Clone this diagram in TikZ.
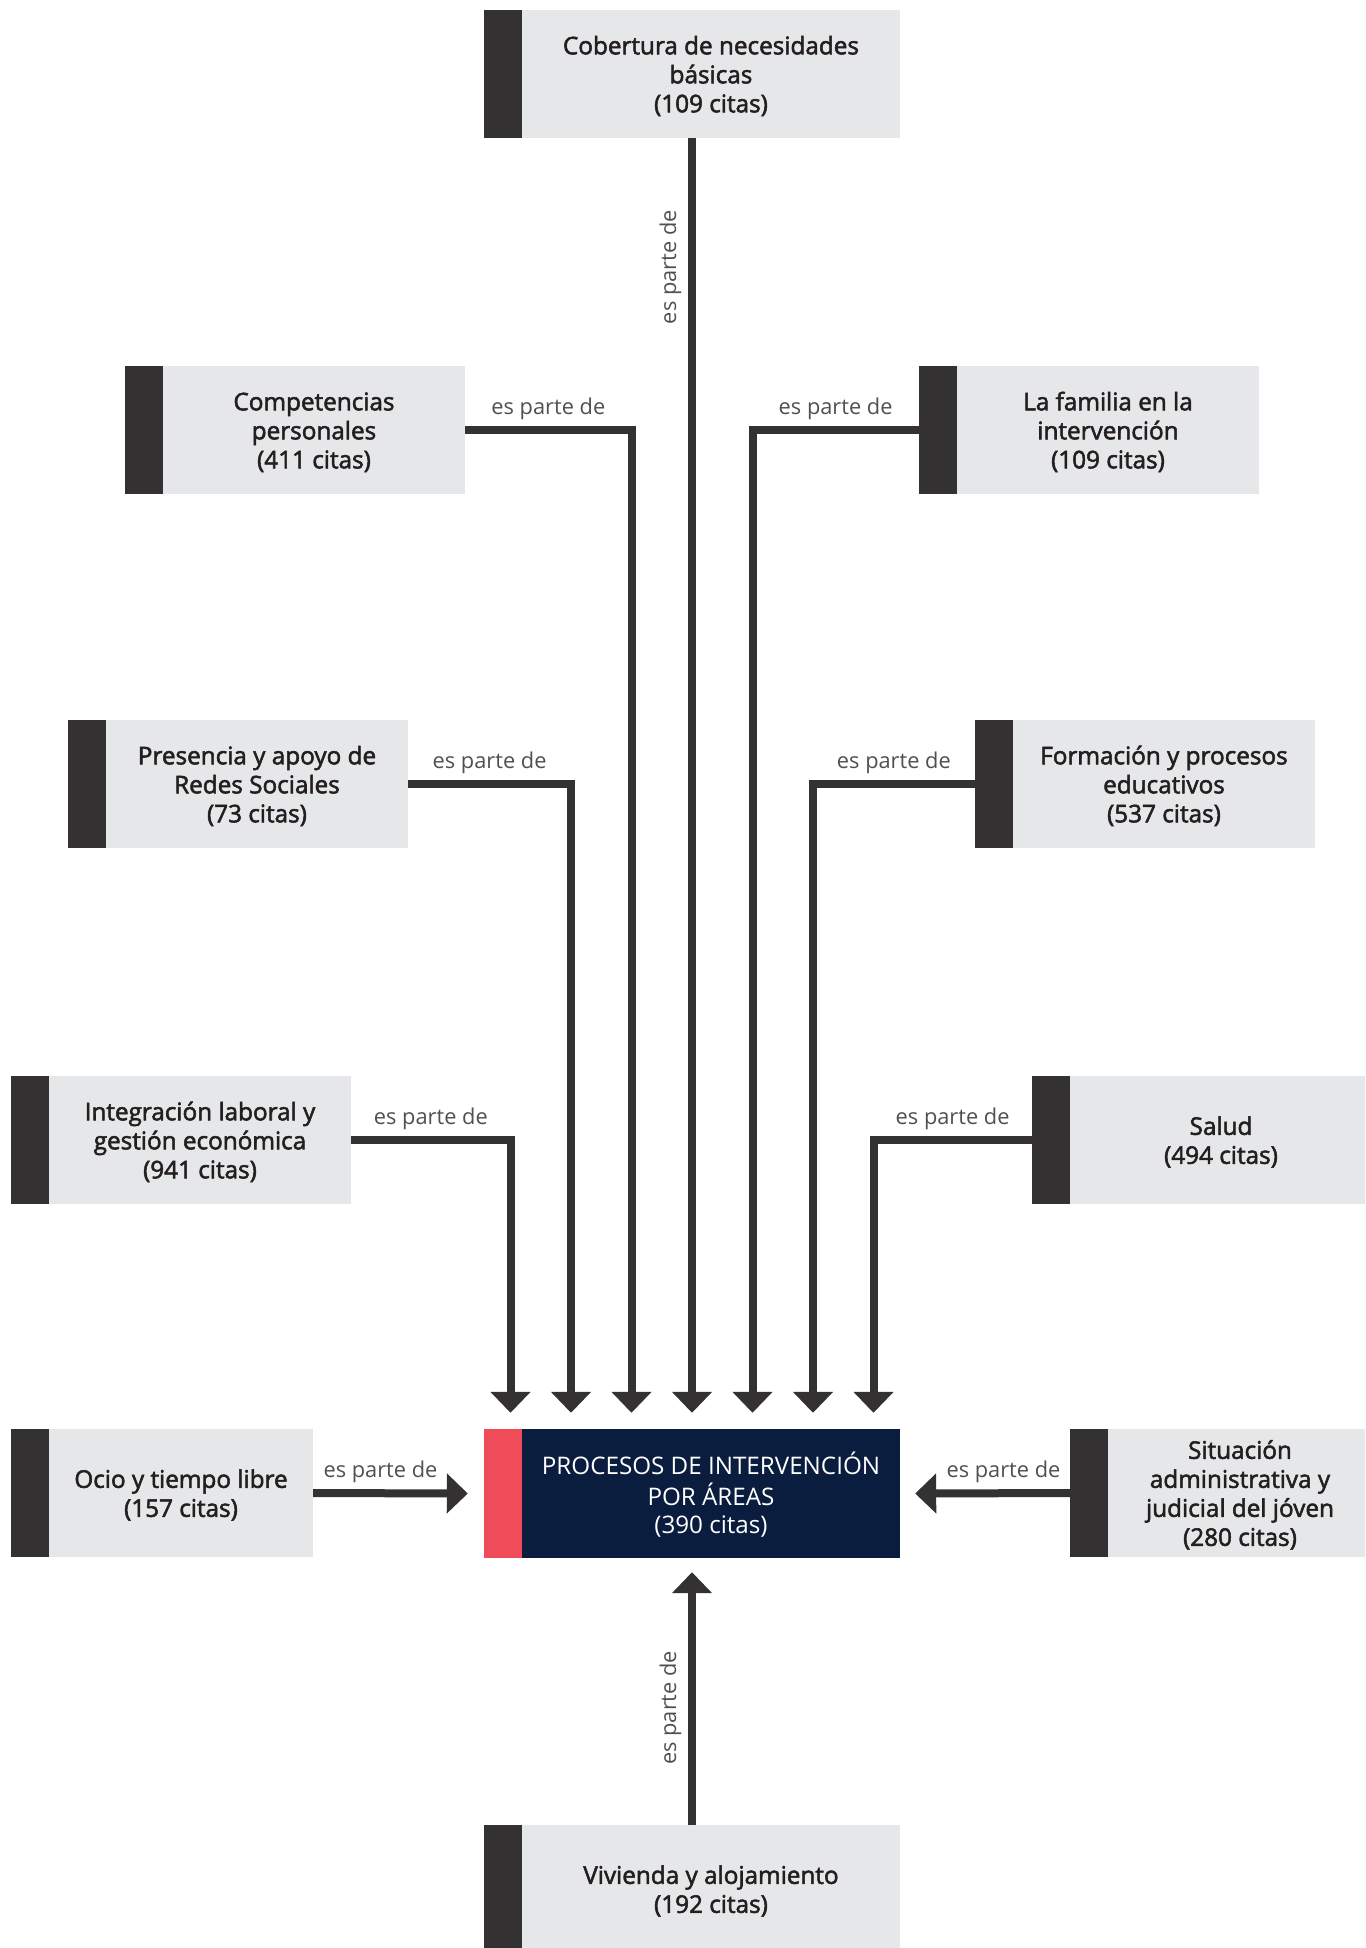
\documentclass[tikz,border=0pt]{standalone}
\usepackage{fontspec}
\setmainfont{Open Sans}
\newfontfamily\sbfont{Open Sans}[FakeBold=2.2]
\newfontfamily\ltfont{Open Sans}
\usetikzlibrary{arrows.meta,calc}
\definecolor{boxgray}{HTML}{E6E7E8}
\definecolor{barc}{HTML}{333132}
\definecolor{linec}{HTML}{333132}
\definecolor{txt}{HTML}{231F20}
\definecolor{lblc}{HTML}{505050}
\definecolor{navy}{HTML}{0B1D3E}
\definecolor{redbar}{HTML}{EF4B59}
\newcommand{\bt}[1]{\hspace*{38pt}\raisebox{-3.5pt}[\height][\depth]{\begin{tabular}{@{}c@{}}#1\end{tabular}}}
\tikzset{
  box/.style={rectangle, fill=boxgray, inner sep=0pt, minimum height=128pt,
    text=txt, font=\sbfont\fontsize{24.3}{29}\selectfont,
    path picture={\fill[barc] (path picture bounding box.north west) rectangle ([xshift=38pt]path picture bounding box.south west);}},
  mainbox/.style={rectangle, fill=navy, inner sep=0pt, minimum height=129pt,
    text=white, font=\fontsize{24.2}{28.5}\selectfont,
    path picture={\fill[redbar] (path picture bounding box.north west) rectangle ([xshift=38pt]path picture bounding box.south west);}},
  conn/.style={draw=linec, line width=8pt, -{Triangle[length=21pt,width=39pt]}},
  lbl/.style={font=\ltfont\fontsize{21.8}{27}\selectfont, text=lblc, inner sep=0pt},
}
\begin{document}
\begin{tikzpicture}[x=1pt,y=-1pt]
\useasboundingbox (0,0) rectangle (1365,1948);
\clip (0,0) rectangle (1365,1948);

\node[box, minimum width=416pt] (cob) at (692,74) {\bt{Cobertura de necesidades\\básicas\\(109 citas)}};
\node[box, minimum width=340pt] (comp) at (295,430) {\bt{Competencias\\personales\\(411 citas)}};
\node[box, minimum width=340pt] (fam) at (1089,430) {\bt{La familia en la\\intervención\\(109 citas)}};
\node[box, minimum width=340pt] (pres) at (238,784) {\bt{Presencia y apoyo de\\Redes Sociales\\(73 citas)}};
\node[box, minimum width=340pt] (form) at (1145,784) {\bt{Formación y procesos\\educativos\\(537 citas)}};
\node[box, minimum width=340pt] (integ) at (181,1140) {\bt{Integración laboral y\\gestión económica\\(941 citas)}};
\node[box, minimum width=340pt] (salud) at (1202,1140) {\bt{Salud\\(494 citas)}};
\node[box, minimum width=302pt] (ocio) at (162,1493) {\bt{Ocio y tiempo libre\\(157 citas)}};
\node[box, minimum width=302pt] (sit) at (1221,1493) {\bt{Situación\\administrativa y\\judicial del jóven\\(280 citas)}};
\node[mainbox, minimum width=416pt] (proc) at (692,1493.5) {\bt{PROCESOS DE INTERVENCIÓN\\POR ÁREAS\\(390 citas)}};
\node[box, minimum width=416pt] (viv) at (692,1889) {\bt{Vivienda y alojamiento\\(192 citas)}};

% vertical from top
\draw[conn] (cob.south) -- ([yshift=16pt]proc.north);
\node[lbl, rotate=90, anchor=base] (l1) at ($(cob.south)+(-16,129)$) {es parte de};

% left side
\draw[conn] (comp.east) -| node[lbl, pos=0.25, anchor=base, yshift=16pt] (l2) {es parte de} ([xshift=-60.5pt,yshift=16pt]proc.north);
\draw[conn] (pres.east) -| node[lbl, pos=0.25, anchor=base, yshift=16pt] (l3) {es parte de} ([xshift=-121pt,yshift=16pt]proc.north);
\draw[conn] (integ.east) -| node[lbl, pos=0.25, anchor=base, yshift=16pt] (l4) {es parte de} ([xshift=-181.5pt,yshift=16pt]proc.north);

% right side
\draw[conn] (fam.west) -| node[lbl, pos=0.25, anchor=base, yshift=16pt] (l5) {es parte de} ([xshift=60.5pt,yshift=16pt]proc.north);
\draw[conn] (form.west) -| node[lbl, pos=0.25, anchor=base, yshift=16pt] (l6) {es parte de} ([xshift=121pt,yshift=16pt]proc.north);
\draw[conn] (salud.west) -| node[lbl, pos=0.25, anchor=base, yshift=16pt] (l7) {es parte de} ([xshift=181.5pt,yshift=16pt]proc.north);

% horizontal
\draw[conn] (ocio.east) -- node[lbl, midway, anchor=base, yshift=16pt, xshift=-10pt] (l8) {es parte de} ([xshift=-16pt]proc.west);
\draw[conn] (sit.west) -- node[lbl, midway, anchor=base, yshift=16pt, xshift=11pt] (l9) {es parte de} ([xshift=15pt]proc.east);

% bottom
\draw[conn] (viv.north) -- ([yshift=-14pt]proc.south);
\node[lbl, rotate=90, anchor=base] (l10) at ($(viv.north)+(-16,-117)$) {es parte de};
\end{tikzpicture}
\end{document}
